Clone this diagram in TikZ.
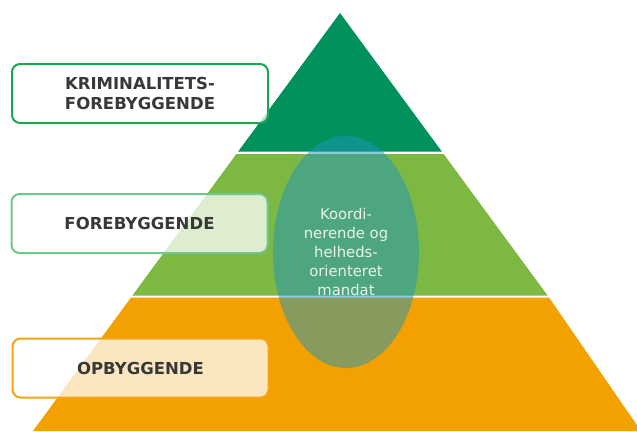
\documentclass[tikz,border=0pt]{standalone}
\usepackage{fontspec}
\setmainfont{DejaVu Sans}
\usetikzlibrary{shapes.geometric}
\definecolor{topgreen}{RGB}{0,145,92}
\definecolor{midgreen}{RGB}{125,184,67}
\definecolor{baseorange}{RGB}{242,161,0}
\definecolor{ovalteal}{RGB}{30,150,190}
\definecolor{labelgray}{RGB}{56,56,56}
\definecolor{ovaltext}{RGB}{236,242,236}
\definecolor{borderA}{RGB}{25,168,80}
\definecolor{borderB}{RGB}{110,200,140}
\definecolor{borderC}{RGB}{245,165,20}
\tikzset{
  labelbox/.style={rounded corners=8pt, line width=2pt, fill=white, fill opacity=0.75,
    draw opacity=1, text opacity=1, minimum width=256pt, minimum height=59pt,
    font=\fontsize{16.5}{20.5}\selectfont\bfseries, text=labelgray, align=center, inner sep=0pt},
  oval/.style={ellipse, fill=ovalteal, fill opacity=0.5, text opacity=1, minimum width=146pt,
    minimum height=232pt, inner sep=0pt, text=ovaltext, align=center,
    font=\fontsize{14.8}{19.2}\selectfont}
}
\begin{document}
\begin{tikzpicture}[x=1pt,y=-1pt]
\useasboundingbox (0,0) rectangle (637,431);
\clip (0,0) rectangle (637,431);
% tiers
\fill[topgreen] (340,13) -- (441.8,151.5) -- (238.2,151.5) -- cycle;
\fill[midgreen] (236.4,154) -- (443.6,154) -- (547.6,295.5) -- (132.4,295.5) -- cycle;
\fill[baseorange] (131,297.5) -- (549,297.5) -- (641,431) -- (33,431) -- cycle;
% labels
\node[labelbox, draw=borderA] (krim) at (140,93.5) {KRIMINALITETS-\\FOREBYGGENDE};
\node[labelbox, draw=borderB] (fore) at (139.5,223.5) {FOREBYGGENDE};
\node[labelbox, draw=borderC] (opb) at (140.5,368) {OPBYGGENDE};
% oval
\node[oval] (mandat) at (346,252) {Koordi-\\nerende og\\helheds-\\orienteret\\mandat};
\end{tikzpicture}
\end{document}
